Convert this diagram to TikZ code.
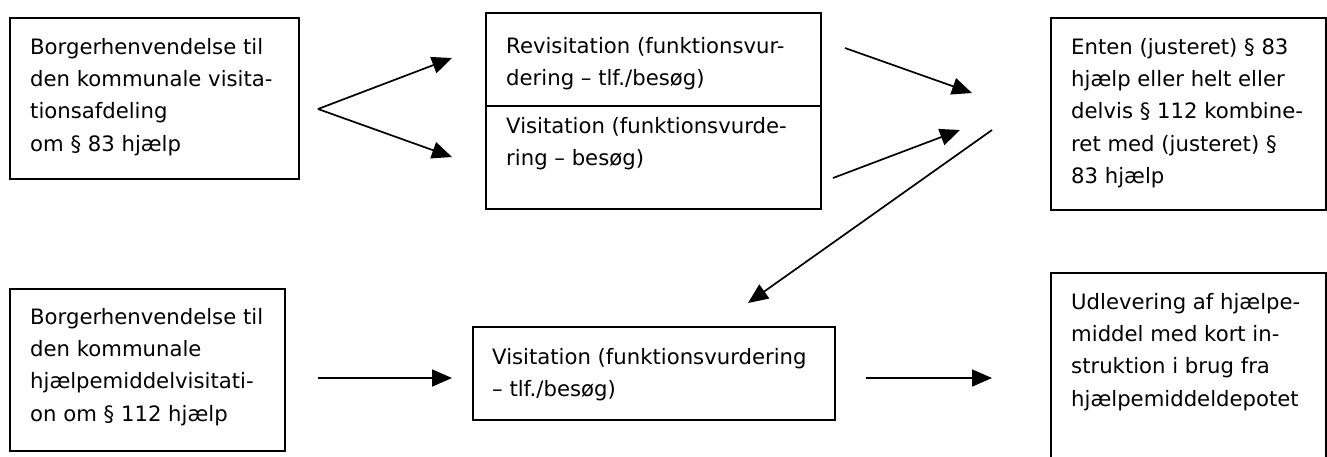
\documentclass[tikz,border=0pt]{standalone}
\usepackage{fontspec}
\setmainfont{DejaVu Sans}
\usetikzlibrary{arrows.meta}
\begin{document}
\begin{tikzpicture}[x=1pt,y=-1pt,
  box/.style={draw, line width=1.8pt, inner sep=0, anchor=north west},
  txt/.style={anchor=north west, inner sep=0, align=left, font=\fontsize{21.2}{32.3}\selectfont},
  arr/.style={line width=1.7pt, -{Triangle[length=20pt,width=17pt]}}]
\useasboundingbox (0,0) rectangle (1327,456);
\fill[white] (0,0) rectangle (1327,456);
% boxes
\node[box, minimum width=289pt, minimum height=161pt] (bA) at (9,17) {};
\node[box, minimum width=335pt, minimum height=93pt] (bB1) at (485,12) {};
\node[box, minimum width=335pt, minimum height=103pt] (bB2) at (485,105) {};
\node[box, minimum width=275pt, minimum height=192pt] (bC) at (1050,17) {};
\node[box, minimum width=275pt, minimum height=162pt] (bD) at (9,288) {};
\node[box, minimum width=362pt, minimum height=93pt] (bE) at (472,326) {};
\node[box, minimum width=275pt, minimum height=195pt] (bF) at (1050,272) {};
% texts
\node[txt] (tA) at (30,31.4) {\strut Borgerhenvendelse til\\den kommunale visita-\\tionsafdeling\\om § 83 hjælp};
\node[txt] (tB1) at (506,30.4) {\strut Revisitation (funktionsvur-\\dering – tlf./besøg)};
\node[txt] (tB2) at (506,110.4) {\strut Visitation (funktionsvurde-\\ring – besøg)};
\node[txt] (tC) at (1071,31.4) {\strut Enten (justeret) § 83\\hjælp eller helt eller\\delvis § 112 kombine-\\ret med (justeret) §\\83 hjælp};
\node[txt] (tD) at (30,301.4) {\strut Borgerhenvendelse til\\den kommunale\\hjælpemiddelvisitati-\\on om § 112 hjælp};
\node[txt] (tE) at (492,341.4) {\strut Visitation (funktionsvurdering\\– tlf./besøg)};
\node[txt] (tF) at (1071,286.4) {\strut Udlevering af hjælpe-\\middel med kort in-\\struktion i brug fra\\hjælpemiddeldepotet};
% connector points
\coordinate (f) at (318,109);
\coordinate (f1) at (452,58);
\coordinate (f2) at (452,157);
\coordinate (r1s) at (845,48);
\coordinate (r1e) at (972,93);
\coordinate (r2s) at (833,178);
\coordinate (r2e) at (960,130);
\coordinate (r3s) at (992,130);
\coordinate (r3e) at (748,303);
\coordinate (l1s) at (318,378);
\coordinate (l1e) at (452,378);
\coordinate (l2s) at (866,378);
\coordinate (l2e) at (992,378);
% connectors
\draw[arr] (f) -- (f1);
\draw[arr] (f) -- (f2);
\draw[arr] (r1s) -- (r1e);
\draw[arr] (r2s) -- (r2e);
\draw[arr] (r3s) -- (r3e);
\draw[arr] (l1s) -- (l1e);
\draw[arr] (l2s) -- (l2e);
\end{tikzpicture}
\end{document}
